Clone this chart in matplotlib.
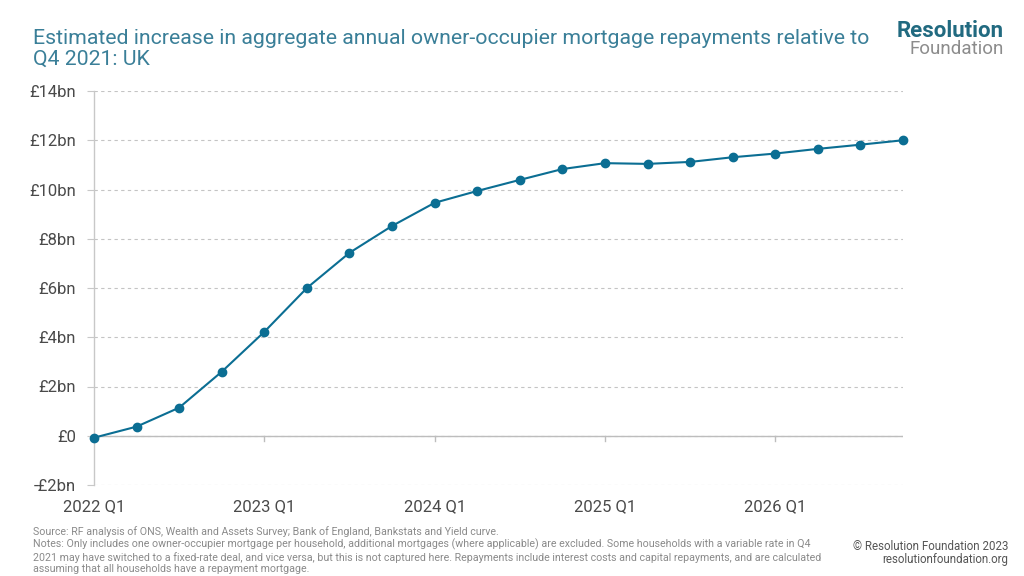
import numpy as np
import matplotlib
matplotlib.use('Agg')
from matplotlib import pyplot as plt

plt.rcParams['font.family'] = ['Roboto', 'DejaVu Sans']

# quarters from 2022 Q1 to 2026 Q4
quarters = [f'{y} Q{q}' for y in range(2022, 2027) for q in range(1, 5)]
repayments_bn = [-0.08, 0.37, 1.14, 2.6, 4.22, 6.0, 7.43, 8.52, 9.46, 9.94,
                 10.39, 10.83, 11.07, 11.04, 11.12, 11.31, 11.46, 11.65, 11.82, 12.0]
yticks = [-2, 0, 2, 4, 6, 8, 10, 12, 14]
ytick_labels = ['-£2bn', '£0', '£2bn', '£4bn', '£6bn', '£8bn', '£10bn', '£12bn', '£14bn']
xtick_idx = [0, 4, 8, 12, 16]

teal = '#0b6e93'
title_col = '#3a7f98'
grey_txt = '#8a8a8a'
axis_grey = '#c8c8c8'

fig = plt.figure(figsize=(10.24, 5.76), dpi=100)
ax = fig.add_axes([94/1024, 1-485/576, (903-94)/1024, (485-91)/576])

x = np.arange(len(quarters))
ax.plot(x, repayments_bn, color=teal, lw=1.5, marker='o', ms=6, zorder=3, clip_on=False)

ax.set_xlim(0, len(quarters) - 1)
ax.set_ylim(-2, 14)
ax.set_yticks(yticks)
ax.set_yticklabels(ytick_labels)
ax.yaxis.grid(True, ls=(0, (3, 3)), color='#c4c4c4', lw=0.8)
ax.set_axisbelow(True)
ax.axhline(0, color='#bdbdbd', lw=1.0, zorder=1)

for s in ['top', 'right', 'bottom']:
    ax.spines[s].set_visible(False)
ax.spines['left'].set_color(axis_grey)
ax.spines['left'].set_linewidth(1.0)

ax.tick_params(axis='y', length=5, color=axis_grey, labelsize=12, labelcolor='#4a4a4a', pad=8)
ax.set_xticks(xtick_idx)
ax.set_xticklabels([quarters[i] for i in xtick_idx])
ax.tick_params(axis='x', length=0, labelsize=12, labelcolor='#4a4a4a', pad=10)

# small tick marks hanging from the zero line
for i in xtick_idx[1:]:
    ax.plot([i, i], [0, -0.22], color='#bdbdbd', lw=1.0, zorder=1)

fig.text(33/1024, 1-49/576, 'Estimated increase in aggregate annual owner-occupier mortgage repayments relative to\nQ4 2021: UK',
         fontsize=15.3, color=title_col, va='center', ha='left', linespacing=1.15)

# logo as two lines of text
fig.text(1004/1024, 1-37/576, 'Resolution', fontsize=16, fontweight='bold', color='#216a80', ha='right', va='baseline')
fig.text(1004/1024, 1-40/576, 'Foundation', fontsize=13.5, color='#8c8c8c', ha='right', va='top')

notes = ('Source: RF analysis of ONS, Wealth and Assets Survey; Bank of England, Bankstats and Yield curve.\n'
         'Notes: Only includes one owner-occupier mortgage per household, additional mortgages (where applicable) are excluded. Some households with a variable rate in Q4\n'
         '2021 may have switched to a fixed-rate deal, and vice versa, but this is not captured here. Repayments include interest costs and capital repayments, and are calculated\n'
         'assuming that all households have a repayment mortgage.')
fig.text(33/1024, 1-526/576, notes, fontsize=7.7, color=grey_txt, ha='left', va='top', linespacing=1.2)
fig.text(1008/1024, 1-546/576, '© Resolution Foundation 2023', fontsize=8.3, color='#555555', ha='right', va='center')
fig.text(1008/1024, 1-560/576, 'resolutionfoundation.org', fontsize=8.3, color='#555555', ha='right', va='center')

plt.savefig('out.png', dpi=100)
